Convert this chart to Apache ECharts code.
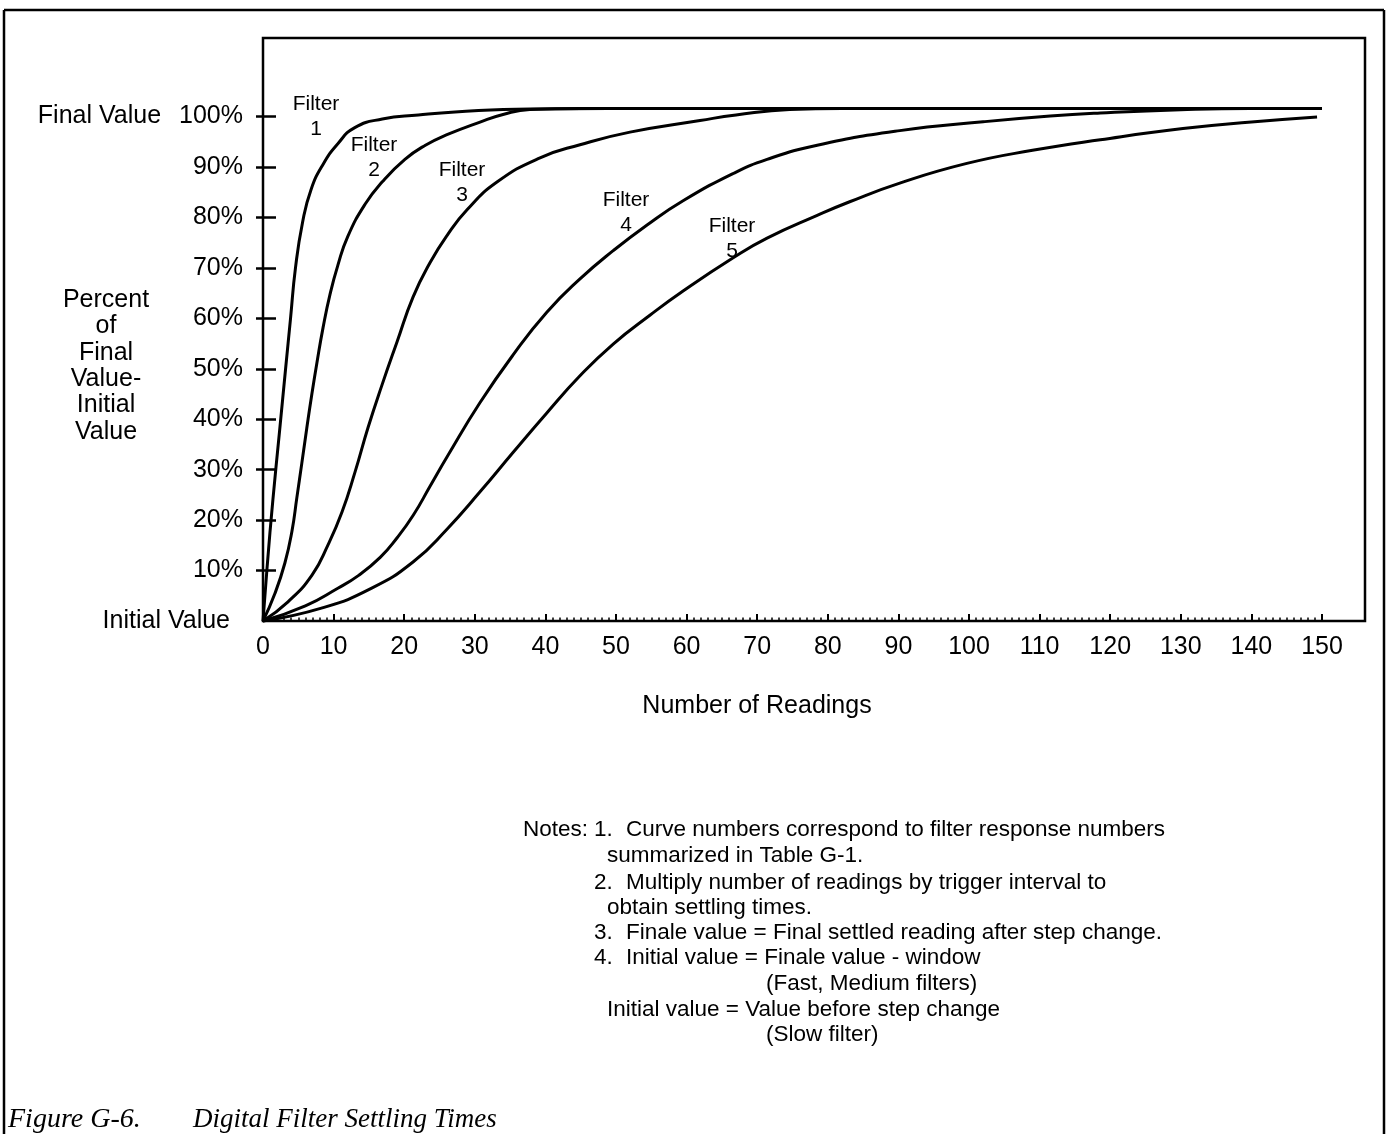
<!DOCTYPE html>
<html>
<head>
<meta charset="utf-8">
<script src="https://cdn.jsdelivr.net/npm/echarts@6/dist/echarts.min.js"></script>
<style>
html,body{margin:0;padding:0;background:#fff;}
#c{width:1387px;height:1134px;}
</style>
</head>
<body>
<div id="c"></div>
<script>
// ---- Data (x = number of readings, y = percent of final-initial) ----
const filter1 = [[0,0],[0.6,11],[1.4,24],[2.3,37],[3.2,50],[3.9,60],[4.6,70],[5.6,79],[6.8,85.5],[8.5,90.5],[10.6,94.6],[13.0,97.8],[16.9,99.5],[22,100.3],[27.2,100.9],[37.8,101.5],[60,101.6],[150,101.6]];
const filter2 = [[0,0],[1.7,5.5],[3.1,11.5],[4.1,17.8],[4.8,24.5],[5.5,31.3],[6.2,38.2],[6.9,44.8],[7.65,51.3],[8.5,58.1],[9.5,64.8],[10.6,70.5],[12.0,76.2],[14.45,82.6],[16.86,87.0],[20.1,91.5],[23,94.3],[26.06,96.4],[30.74,98.9],[34,100.4],[37.8,101.4],[45,101.6],[150,101.6]];
const filter3 = [[0,0],[3.54,3.8],[6.94,9.1],[9.21,15.1],[11.19,21.6],[13.03,29.5],[14.87,38.3],[16.86,46.8],[18.98,55.3],[21.25,64.2],[23.65,71.0],[26.06,76.4],[28.9,81.5],[33.14,87.0],[39.24,91.8],[44.9,94.4],[51.98,96.9],[61.9,99.2],[67,100.3],[74.6,101.4],[82,101.6],[150,101.6]];
const filter4 = [[0,0],[6,3.0],[10.6,6.5],[13.5,9.0],[16.6,12.6],[19,16.5],[21.3,21.0],[23.7,26.8],[26.1,32.6],[30.7,43.2],[35.4,52.7],[40.2,61.2],[44.9,67.8],[49.6,73.4],[54.4,78.5],[59.5,83.3],[66.6,88.7],[71.4,91.5],[78.5,94.3],[90.2,97.2],[102,98.95],[111.5,100.1],[118.6,100.7],[130,101.35],[139.8,101.6],[150,101.6]];
const filter5 = [[0,0],[8.4,2.6],[15.4,6.5],[21.25,11.7],[26.06,18.2],[30.74,25.6],[35.41,33.4],[40.23,41.3],[44.9,48.6],[49.6,54.9],[54.8,60.6],[59.5,65.4],[66.6,72.0],[71.4,75.9],[78.5,80.4],[83.1,83.1],[90.2,86.8],[99.7,90.7],[109,93.3],[118.6,95.4],[130.3,97.6],[140,98.9],[149.3,99.9]];
const seriesNames = ['Filter 1','Filter 2','Filter 3','Filter 4','Filter 5'];
const seriesData = [filter1, filter2, filter3, filter4, filter5];

const yTickValues = [10,20,30,40,50,60,70,80,90,100];
const yLabelValues = [0,10,20,30,40,50,60,70,80,90,100];
const yLabelTop = 'Final Value';
const yLabelBottom = 'Initial Value';
const yAxisTitle = 'Percent\nof\nFinal\nValue-\nInitial\nValue';
const xAxisTitle = 'Number of Readings';
const caption1 = 'Figure G-6.';
const caption2 = 'Digital Filter Settling Times';
const notesLines = [
  ['Notes:', '1.', 'Curve numbers correspond to filter response numbers'],
  ['', '', 'summarized in Table G-1.'],
  ['', '2.', 'Multiply number of readings by trigger interval to'],
  ['', '', 'obtain settling times.'],
  ['', '3.', 'Finale value = Final settled reading after step change.'],
  ['', '4.', 'Initial value = Finale value - window'],
  ['', '', '(Fast, Medium filters)'],
  ['', '', 'Initial value = Value before step change'],
  ['', '', '(Slow filter)']
];

// ---- Layout / styles ----
const FF = '"Liberation Sans", Arial, Helvetica, sans-serif';
const chart = echarts.init(document.getElementById('c'), null, {renderer:'canvas'});

const graphics = [];
// outer page frame
graphics.push({type:'line', shape:{x1:4,y1:10,x2:1384,y2:10}, style:{stroke:'#000', lineWidth:2.5}});
graphics.push({type:'line', shape:{x1:4,y1:10,x2:4,y2:1134}, style:{stroke:'#000', lineWidth:2.5}});
graphics.push({type:'line', shape:{x1:1384,y1:10,x2:1384,y2:1134}, style:{stroke:'#000', lineWidth:2.5}});

// y-axis title
graphics.push({type:'text', x:106, y:366, style:{text:yAxisTitle, font:'25px '+FF, fill:'#000', textAlign:'center', textVerticalAlign:'middle', lineHeight:26.4}});
// x-axis title
graphics.push({type:'text', x:757, y:706, style:{text:xAxisTitle, font:'25px '+FF, fill:'#000', textAlign:'center', textVerticalAlign:'middle'}});

// filter labels
const filterLabelPos = [[316,117],[374,158],[462,183],[626,213],[732,239]];
seriesNames.forEach((n,i)=>{
  const parts = n.split(' ');
  graphics.push({type:'text', x:filterLabelPos[i][0], y:filterLabelPos[i][1], style:{text:parts[0]+'\n'+parts[1], font:'21px '+FF, fill:'#000', textAlign:'center', textVerticalAlign:'middle', lineHeight:25}});
});

// notes
const noteY = [830,856,883,908,933,958,984,1010,1035];
const noteTextX = [626,607,626,607,626,626,766,607,766];
notesLines.forEach((ln,i)=>{
  if (ln[0]) graphics.push({type:'text', x:523, y:noteY[i], style:{text:ln[0], font:'22.5px '+FF, fill:'#000', textVerticalAlign:'middle'}});
  if (ln[1]) graphics.push({type:'text', x:594, y:noteY[i], style:{text:ln[1], font:'22.5px '+FF, fill:'#000', textVerticalAlign:'middle'}});
  graphics.push({type:'text', x:noteTextX[i], y:noteY[i], style:{text:ln[2], font:'22.5px '+FF, fill:'#000', textVerticalAlign:'middle'}});
});

// caption
graphics.push({type:'text', x:8, y:1120, style:{text:caption1, font:'italic 28px "Liberation Serif", "Times New Roman", serif', fill:'#000', textVerticalAlign:'middle'}});
graphics.push({type:'text', x:193, y:1120, style:{text:caption2, font:'italic 27px "Liberation Serif", "Times New Roman", serif', fill:'#000', textVerticalAlign:'middle'}});

const option = {
  animation: false,
  backgroundColor: '#fff',
  textStyle: {fontFamily: FF, color:'#000'},
  grid: [
    {left:263, top:116.5, width:1059, height:504.5, show:false, outerBoundsMode:'none', containLabel:false},
    {left:263, top:38, width:1102, height:583, show:true, borderColor:'#000', borderWidth:2.5, backgroundColor:'transparent', outerBoundsMode:'none', containLabel:false}
  ],
  xAxis: [
    {type:'value', gridIndex:0, min:0, max:150, interval:10,
     axisLine:{show:false},
     axisTick:{show:true, inside:true, length:7, lineStyle:{color:'#000', width:2}},
     minorTick:{show:true, splitNumber:10, length:3.5, lineStyle:{color:'#000', width:1.5}},
     splitLine:{show:false}, minorSplitLine:{show:false},
     axisLabel:{show:true, color:'#000', fontSize:25, fontFamily:FF, margin:14, showMinLabel:true, showMaxLabel:true}
    },
    {type:'value', gridIndex:1, min:0, max:1, show:false}
  ],
  yAxis: [
    {type:'value', gridIndex:0, position:'left', min:0, max:100, interval:10,
     axisLine:{show:false},
     axisTick:{show:true, inside:true, length:13, customValues:yTickValues, lineStyle:{color:'#000', width:2.5}},
     splitLine:{show:false},
     axisLabel:{show:true, customValues:yLabelValues, color:'#000', fontSize:25, fontFamily:FF, margin:20,
       formatter:function(v){
         if (v === 100) return '{fv|' + yLabelTop + '}{v|100%}';
         if (v === 0) return '{iv|' + yLabelBottom + '}';
         return '{v|' + v + '%}';
       },
       rich:{
         fv:{fontSize:25, fontFamily:FF, color:'#000', padding:[0,18,0,0]},
         v:{fontSize:25, fontFamily:FF, color:'#000'},
         iv:{fontSize:25, fontFamily:FF, color:'#000', padding:[0,13,0,0]}
       }
     }
    },
    {type:'value', gridIndex:0, position:'left', min:0, max:100, interval:10,
     axisLine:{show:false},
     axisTick:{show:true, inside:false, length:7, customValues:yTickValues, lineStyle:{color:'#000', width:2.5}},
     splitLine:{show:false},
     axisLabel:{show:false}
    },
    {type:'value', gridIndex:1, min:0, max:1, show:false}
  ],
  series: seriesData.map((d,i)=>({
    name: seriesNames[i], type:'line', xAxisIndex:0, yAxisIndex:0,
    data: d, symbol:'none', showSymbol:false, smooth:0.5, clip:false, silent:true,
    lineStyle:{color:'#000', width:3}
  })),
  graphic: graphics
};
chart.setOption(option);
</script>
</body>
</html>
